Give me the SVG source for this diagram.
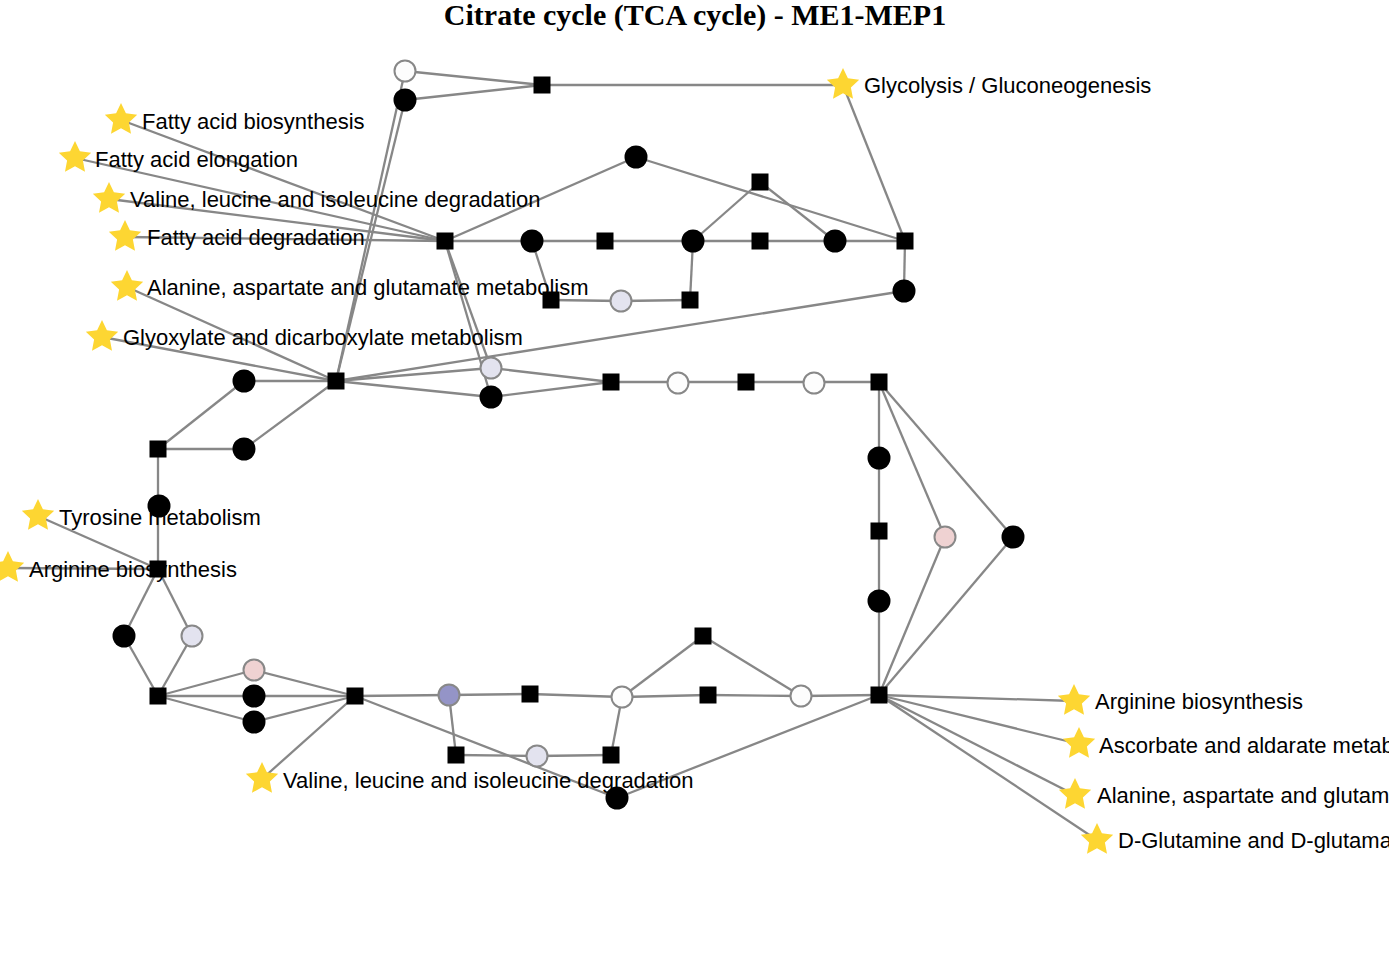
<svg xmlns="http://www.w3.org/2000/svg" xmlns:xlink="http://www.w3.org/1999/xlink" width="1389" height="962" viewBox="0 0 1389 962">
<style>
.e{stroke:#878787;stroke-width:2.3;fill:none}
.sq{fill:#000}
.bk{fill:#000}
.lc{stroke:#888;stroke-width:2}
.wh{fill:#fdfdfd}
.lv{fill:#e3e3ef}
.pk{fill:#efd2d2}
.bp{fill:#9494c7}
.st{fill:#fdd632}
.lb{font-family:"Liberation Sans",Arial,sans-serif;font-size:22px;fill:#000}
.ti{font-family:"Liberation Serif","Times New Roman",serif;font-size:30px;font-weight:bold;fill:#000}
</style>
<defs>
<path id="star" d="M0,-17 L4.9,-6.7 L16.2,-5.3 L7.9,2.6 L10,13.8 L0,8.3 L-10,13.8 L-7.9,2.6 L-16.2,-5.3 L-4.9,-6.7 Z"/>
<rect id="sqr" x="-8.5" y="-8.5" width="17" height="17"/>
</defs>
<rect width="1389" height="962" fill="#fff"/>
<text class="ti" x="695" y="25" text-anchor="middle">Citrate cycle (TCA cycle) - ME1-MEP1</text>
<g id="connectors">
<line class="e" x1="405" y1="71" x2="542" y2="85"/>
<line class="e" x1="405" y1="100" x2="542" y2="85"/>
<line class="e" x1="542" y1="85" x2="843" y2="85"/>
<line class="e" x1="843" y1="85" x2="905" y2="241"/>
<line class="e" x1="405" y1="71" x2="336" y2="381"/>
<line class="e" x1="405" y1="100" x2="336" y2="381"/>
<line class="e" x1="121" y1="120" x2="445" y2="241"/>
<line class="e" x1="75" y1="158" x2="445" y2="241"/>
<line class="e" x1="109" y1="199" x2="445" y2="241"/>
<line class="e" x1="125" y1="237" x2="445" y2="241"/>
<line class="e" x1="127" y1="287" x2="336" y2="381"/>
<line class="e" x1="102" y1="337" x2="336" y2="381"/>
<line class="e" x1="445" y1="241" x2="636" y2="157"/>
<line class="e" x1="636" y1="157" x2="905" y2="241"/>
<line class="e" x1="445" y1="241" x2="491" y2="368"/>
<line class="e" x1="445" y1="241" x2="491" y2="397"/>
<line class="e" x1="445" y1="241" x2="532" y2="241"/>
<line class="e" x1="532" y1="241" x2="905" y2="241"/>
<line class="e" x1="693" y1="241" x2="760" y2="182"/>
<line class="e" x1="760" y1="182" x2="835" y2="241"/>
<line class="e" x1="532" y1="241" x2="551" y2="300"/>
<line class="e" x1="551" y1="300" x2="621" y2="301"/>
<line class="e" x1="621" y1="301" x2="690" y2="300"/>
<line class="e" x1="690" y1="300" x2="693" y2="241"/>
<line class="e" x1="905" y1="241" x2="904" y2="291"/>
<line class="e" x1="904" y1="291" x2="336" y2="381"/>
<line class="e" x1="336" y1="381" x2="244" y2="381"/>
<line class="e" x1="336" y1="381" x2="244" y2="449"/>
<line class="e" x1="336" y1="381" x2="491" y2="368"/>
<line class="e" x1="336" y1="381" x2="491" y2="397"/>
<line class="e" x1="491" y1="368" x2="611" y2="382"/>
<line class="e" x1="491" y1="397" x2="611" y2="382"/>
<line class="e" x1="611" y1="382" x2="879" y2="382"/>
<line class="e" x1="879" y1="382" x2="879" y2="695"/>
<line class="e" x1="879" y1="382" x2="945" y2="537"/>
<line class="e" x1="945" y1="537" x2="879" y2="695"/>
<line class="e" x1="879" y1="382" x2="1013" y2="537"/>
<line class="e" x1="1013" y1="537" x2="879" y2="695"/>
<line class="e" x1="244" y1="381" x2="158" y2="449"/>
<line class="e" x1="158" y1="449" x2="244" y2="449"/>
<line class="e" x1="158" y1="449" x2="158" y2="569"/>
<line class="e" x1="38" y1="516" x2="158" y2="569"/>
<line class="e" x1="8" y1="568" x2="158" y2="569"/>
<line class="e" x1="158" y1="569" x2="124" y2="636"/>
<line class="e" x1="124" y1="636" x2="158" y2="696"/>
<line class="e" x1="158" y1="569" x2="192" y2="636"/>
<line class="e" x1="192" y1="636" x2="158" y2="696"/>
<line class="e" x1="158" y1="696" x2="254" y2="670"/>
<line class="e" x1="254" y1="670" x2="355" y2="696"/>
<line class="e" x1="158" y1="696" x2="355" y2="696"/>
<line class="e" x1="158" y1="696" x2="254" y2="722"/>
<line class="e" x1="254" y1="722" x2="355" y2="696"/>
<line class="e" x1="355" y1="696" x2="262" y2="779"/>
<line class="e" x1="355" y1="696" x2="449" y2="695"/>
<line class="e" x1="449" y1="695" x2="530" y2="694"/>
<line class="e" x1="530" y1="694" x2="622" y2="697"/>
<line class="e" x1="622" y1="697" x2="708" y2="695"/>
<line class="e" x1="708" y1="695" x2="801" y2="696"/>
<line class="e" x1="801" y1="696" x2="879" y2="695"/>
<line class="e" x1="622" y1="697" x2="703" y2="636"/>
<line class="e" x1="703" y1="636" x2="801" y2="696"/>
<line class="e" x1="449" y1="695" x2="456" y2="755"/>
<line class="e" x1="456" y1="755" x2="537" y2="756"/>
<line class="e" x1="537" y1="756" x2="611" y2="755"/>
<line class="e" x1="611" y1="755" x2="622" y2="697"/>
<line class="e" x1="355" y1="696" x2="617" y2="798"/>
<line class="e" x1="617" y1="798" x2="879" y2="695"/>
<line class="e" x1="879" y1="695" x2="1074" y2="701"/>
<line class="e" x1="879" y1="695" x2="1079" y2="744"/>
<line class="e" x1="879" y1="695" x2="1075" y2="795"/>
<line class="e" x1="879" y1="695" x2="1097" y2="840"/>
</g>
<g id="n_top_w"><circle class="wh lc" cx="405" cy="71" r="10.5"/></g>
<g id="n_top_b"><circle class="bk" cx="405" cy="100" r="11.5"/></g>
<g id="n_top_sq"><use href="#sqr" class="sq" x="542" y="85"/></g>
<g id="n_A"><use href="#sqr" class="sq" x="445" y="241"/></g>
<g id="n_c636"><circle class="bk" cx="636" cy="157" r="11.5"/></g>
<g id="n_c532"><circle class="bk" cx="532" cy="241" r="11.5"/></g>
<g id="n_s605"><use href="#sqr" class="sq" x="605" y="241"/></g>
<g id="n_c693"><circle class="bk" cx="693" cy="241" r="11.5"/></g>
<g id="n_s760a"><use href="#sqr" class="sq" x="760" y="182"/></g>
<g id="n_s760b"><use href="#sqr" class="sq" x="760" y="241"/></g>
<g id="n_c835"><circle class="bk" cx="835" cy="241" r="11.5"/></g>
<g id="n_s905"><use href="#sqr" class="sq" x="905" y="241"/></g>
<g id="n_c904"><circle class="bk" cx="904" cy="291" r="11.5"/></g>
<g id="n_s551"><use href="#sqr" class="sq" x="551" y="300"/></g>
<g id="n_l621"><circle class="lv lc" cx="621" cy="301" r="10.5"/></g>
<g id="n_s690"><use href="#sqr" class="sq" x="690" y="300"/></g>
<g id="n_B"><use href="#sqr" class="sq" x="336" y="381"/></g>
<g id="n_c244a"><circle class="bk" cx="244" cy="381" r="11.5"/></g>
<g id="n_c244b"><circle class="bk" cx="244" cy="449" r="11.5"/></g>
<g id="n_l491"><circle class="lv lc" cx="491" cy="368" r="10.5"/></g>
<g id="n_c491"><circle class="bk" cx="491" cy="397" r="11.5"/></g>
<g id="n_s611"><use href="#sqr" class="sq" x="611" y="382"/></g>
<g id="n_w678"><circle class="wh lc" cx="678" cy="383" r="10.5"/></g>
<g id="n_s746"><use href="#sqr" class="sq" x="746" y="382"/></g>
<g id="n_w814"><circle class="wh lc" cx="814" cy="383" r="10.5"/></g>
<g id="n_s879a"><use href="#sqr" class="sq" x="879" y="382"/></g>
<g id="n_c879a"><circle class="bk" cx="879" cy="458" r="11.5"/></g>
<g id="n_s879b"><use href="#sqr" class="sq" x="879" y="531"/></g>
<g id="n_c879b"><circle class="bk" cx="879" cy="601" r="11.5"/></g>
<g id="n_p945"><circle class="pk lc" cx="945" cy="537" r="10.5"/></g>
<g id="n_c1013"><circle class="bk" cx="1013" cy="537" r="11.5"/></g>
<g id="n_C"><use href="#sqr" class="sq" x="879" y="695"/></g>
<g id="n_s158a"><use href="#sqr" class="sq" x="158" y="449"/></g>
<g id="n_c159"><circle class="bk" cx="159" cy="506" r="11.5"/></g>
<g id="n_s158b"><use href="#sqr" class="sq" x="158" y="569"/></g>
<g id="n_c124"><circle class="bk" cx="124" cy="636" r="11.5"/></g>
<g id="n_l192"><circle class="lv lc" cx="192" cy="636" r="10.5"/></g>
<g id="n_s158c"><use href="#sqr" class="sq" x="158" y="696"/></g>
<g id="n_p254"><circle class="pk lc" cx="254" cy="670" r="10.5"/></g>
<g id="n_c254a"><circle class="bk" cx="254" cy="696" r="11.5"/></g>
<g id="n_c254b"><circle class="bk" cx="254" cy="722" r="11.5"/></g>
<g id="n_D"><use href="#sqr" class="sq" x="355" y="696"/></g>
<g id="n_b449"><circle class="bp lc" cx="449" cy="695" r="10.5"/></g>
<g id="n_s530"><use href="#sqr" class="sq" x="530" y="694"/></g>
<g id="n_w622"><circle class="wh lc" cx="622" cy="697" r="10.5"/></g>
<g id="n_s703"><use href="#sqr" class="sq" x="703" y="636"/></g>
<g id="n_s708"><use href="#sqr" class="sq" x="708" y="695"/></g>
<g id="n_w801"><circle class="wh lc" cx="801" cy="696" r="10.5"/></g>
<g id="n_s456"><use href="#sqr" class="sq" x="456" y="755"/></g>
<g id="n_l537"><circle class="lv lc" cx="537" cy="756" r="10.5"/></g>
<g id="n_s611b"><use href="#sqr" class="sq" x="611" y="755"/></g>
<g id="n_c617"><circle class="bk" cx="617" cy="798" r="11.5"/></g>
<g id="p_glycolysis"><use href="#star" class="st" x="843" y="85"/><text class="lb" x="864" y="93">Glycolysis / Gluconeogenesis</text></g>
<g id="p_fab"><use href="#star" class="st" x="121" y="120"/><text class="lb" x="142" y="129">Fatty acid biosynthesis</text></g>
<g id="p_fae"><use href="#star" class="st" x="75" y="158"/><text class="lb" x="95" y="167">Fatty acid elongation</text></g>
<g id="p_val1"><use href="#star" class="st" x="109" y="199"/><text class="lb" x="130" y="207">Valine, leucine and isoleucine degradation</text></g>
<g id="p_fad"><use href="#star" class="st" x="125" y="237"/><text class="lb" x="147" y="245">Fatty acid degradation</text></g>
<g id="p_ala1"><use href="#star" class="st" x="127" y="287"/><text class="lb" x="147" y="295">Alanine, aspartate and glutamate metabolism</text></g>
<g id="p_gly"><use href="#star" class="st" x="102" y="337"/><text class="lb" x="123" y="345">Glyoxylate and dicarboxylate metabolism</text></g>
<g id="p_tyr"><use href="#star" class="st" x="38" y="516"/><text class="lb" x="59" y="525">Tyrosine metabolism</text></g>
<g id="p_arg1"><use href="#star" class="st" x="8" y="568"/><text class="lb" x="29" y="577">Arginine biosynthesis</text></g>
<g id="p_val2"><use href="#star" class="st" x="262" y="779"/><text class="lb" x="283" y="788">Valine, leucine and isoleucine degradation</text></g>
<g id="p_arg2"><use href="#star" class="st" x="1074" y="701"/><text class="lb" x="1095" y="709">Arginine biosynthesis</text></g>
<g id="p_asc"><use href="#star" class="st" x="1079" y="744"/><text class="lb" x="1099" y="753">Ascorbate and aldarate metabolism</text></g>
<g id="p_ala2"><use href="#star" class="st" x="1075" y="795"/><text class="lb" x="1097" y="803">Alanine, aspartate and glutamate metabolism</text></g>
<g id="p_dglu"><use href="#star" class="st" x="1097" y="840"/><text class="lb" x="1118" y="848">D-Glutamine and D-glutamate metabolism</text></g>
</svg>
